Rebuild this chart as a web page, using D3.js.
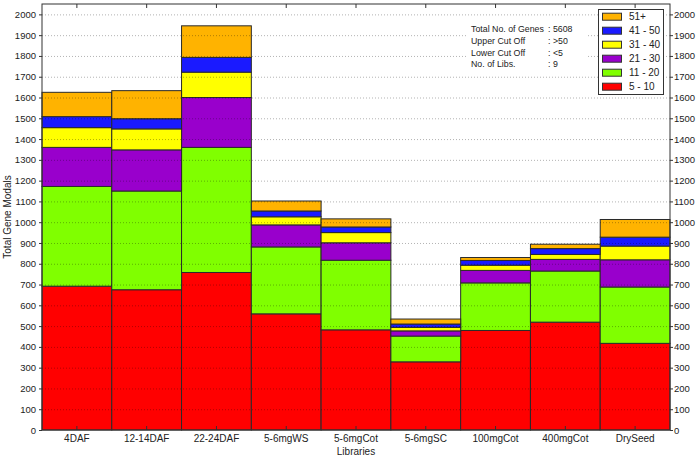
<!DOCTYPE html>
<html>
<head>
<meta charset="utf-8">
<script src="https://cdn.jsdelivr.net/npm/d3@7"></script>
<style>
  body { margin: 0; background: #fff; }
  svg { display: block; font-family: "Liberation Sans", Arial, sans-serif; }
</style>
</head>
<body>
<svg id="chart" width="699" height="459"></svg>
<script>
const libraries = ["4DAF", "12-14DAF", "22-24DAF", "5-6mgWS", "5-6mgCot", "5-6mgSC", "100mgCot", "400mgCot", "DrySeed"];
const seriesNames = ["5 - 10", "11 - 20", "21 - 30", "31 - 40", "41 - 50", "51+"];
const seriesColors = ["#ff0000", "#80ff00", "#9900cc", "#ffff00", "#1a1aff", "#ffb300"];
const s5to10  = [692, 675, 758, 559, 482, 328, 479, 519, 417];
const s11to20 = [480, 475, 602, 322, 335, 124, 229, 246, 271];
const s21to30 = [188, 198, 240, 106,  84,  25,  60,  56, 131];
const s31to40 = [ 95, 101, 122,  39,  49,  17,  25,  24,  66];
const s41to50 = [ 53,  49,  71,  28,  27,  16,  23,  28,  43];
const s51plus = [117, 135, 152,  48,  39,  24,  14,  21,  85];
const yTicks = d3.range(0, 2001, 100);
const infoLabels = ["Total No. of Genes", "Upper Cut Off", "Lower Cut Off", "No. of Libs."];
const infoValues = [": 5608", ": >50", ": <5", ": 9"];

(function () {
const seriesData = [s5to10, s11to20, s21to30, s31to40, s41to50, s51plus];
const rows = libraries.map((lib, i) => {
  const r = { lib };
  seriesNames.forEach((k, j) => r[k] = seriesData[j][i]);
  return r;
});

const svg = d3.select("#chart");
const pL = 42, pR = 670, pT = 4, pB = 430;

const x = d3.scaleBand().domain(libraries).range([pL, pR]).padding(0);
const y = d3.scaleLinear().domain([0, 2050]).range([pB, pT]);

const stack = d3.stack().keys(seriesNames)(rows);

// bars
const g = svg.append("g");
stack.forEach((layer, j) => {
  g.selectAll(null).data(layer).enter().append("rect")
    .attr("x", d => x(d.data.lib))
    .attr("width", x.bandwidth())
    .attr("y", d => y(d[1]))
    .attr("height", d => y(d[0]) - y(d[1]))
    .attr("fill", seriesColors[j])
    .attr("stroke", "#2a2a2a")
    .attr("stroke-width", 1);
});

// gridlines (dotted, drawn over bars)
svg.append("g").selectAll("line").data(yTicks.filter(v => v > 0)).enter().append("line")
  .attr("x1", pL).attr("x2", pR)
  .attr("y1", d => y(d) + 0.5).attr("y2", d => y(d) + 0.5)
  .attr("stroke", "#000").attr("stroke-opacity", 0.3)
  .attr("stroke-dasharray", "1,2");

// annotation background
svg.append("rect").attr("x", 466).attr("y", 19).attr("width", 120).attr("height", 51).attr("fill", "#fff");

// axes
const fmt = d3.format("d");
const leftAxis = d3.axisLeft(y).tickValues(yTicks).tickFormat(fmt).tickSize(3).tickPadding(3);
const rightAxis = d3.axisRight(y).tickValues(yTicks).tickFormat(fmt).tickSize(3).tickPadding(1);
const topAxis = d3.axisTop(x).tickSize(-4).tickFormat("");
const bottomAxis = d3.axisBottom(x).tickSize(-4).tickPadding(5);

function style(sel, fs) {
  sel.select(".domain").remove();
  sel.selectAll("line").attr("stroke", "#333");
  sel.selectAll("text").attr("font-size", fs).attr("fill", "#222")
    .attr("font-family", "'Liberation Sans', Arial, sans-serif");
}
svg.append("g").attr("transform", `translate(${pL},0)`).call(leftAxis).call(s => style(s, "9.5px"));
svg.append("g").attr("transform", `translate(${pR},0)`).call(rightAxis).call(s => style(s, "9.5px"));
svg.append("g").attr("transform", `translate(0,${pT})`).call(topAxis).call(s => style(s, "10px"));
svg.append("g").attr("transform", `translate(0,${pB})`).call(bottomAxis).call(s => style(s, "10px"));

// frame
svg.append("rect").attr("x", pL).attr("y", pT).attr("width", pR - pL).attr("height", pB - pT)
  .attr("fill", "none").attr("stroke", "#333").attr("stroke-width", 1);

// axis titles
svg.append("text").attr("x", (pL + pR) / 2).attr("y", 455).attr("text-anchor", "middle")
  .attr("font-size", "10px").attr("fill", "#222").text("Libraries");
svg.append("text").attr("transform", `translate(11,${(pT + pB) / 2}) rotate(-90)`)
  .attr("text-anchor", "middle").attr("font-size", "10px").attr("fill", "#222").text("Total Gene Modals");

// annotation
const info = svg.append("g").attr("font-size", "8.8px").attr("fill", "#222");
infoLabels.forEach((t, i) => {
  info.append("text").attr("x", 471).attr("y", 32 + i * 11.8).text(t);
  info.append("text").attr("x", 548).attr("y", 32 + i * 11.8).text(infoValues[i]);
});

// legend
const lg = svg.append("g");
lg.append("rect").attr("x", 598.5).attr("y", 9.5).attr("width", 65).attr("height", 85)
  .attr("fill", "#fff").attr("stroke", "#333");
const order = seriesNames.map((n, i) => i).reverse();
order.forEach((j, i) => {
  const cy = 16.7 + i * 14;
  lg.append("rect").attr("x", 602.5).attr("y", cy - 3.5).attr("width", 19).attr("height", 7)
    .attr("fill", seriesColors[j]).attr("stroke", "#333");
  lg.append("text").attr("x", 629).attr("y", cy + 3.5).attr("font-size", "10px").attr("fill", "#222")
    .text(seriesNames[j]);
});
})();
</script>
</body>
</html>
